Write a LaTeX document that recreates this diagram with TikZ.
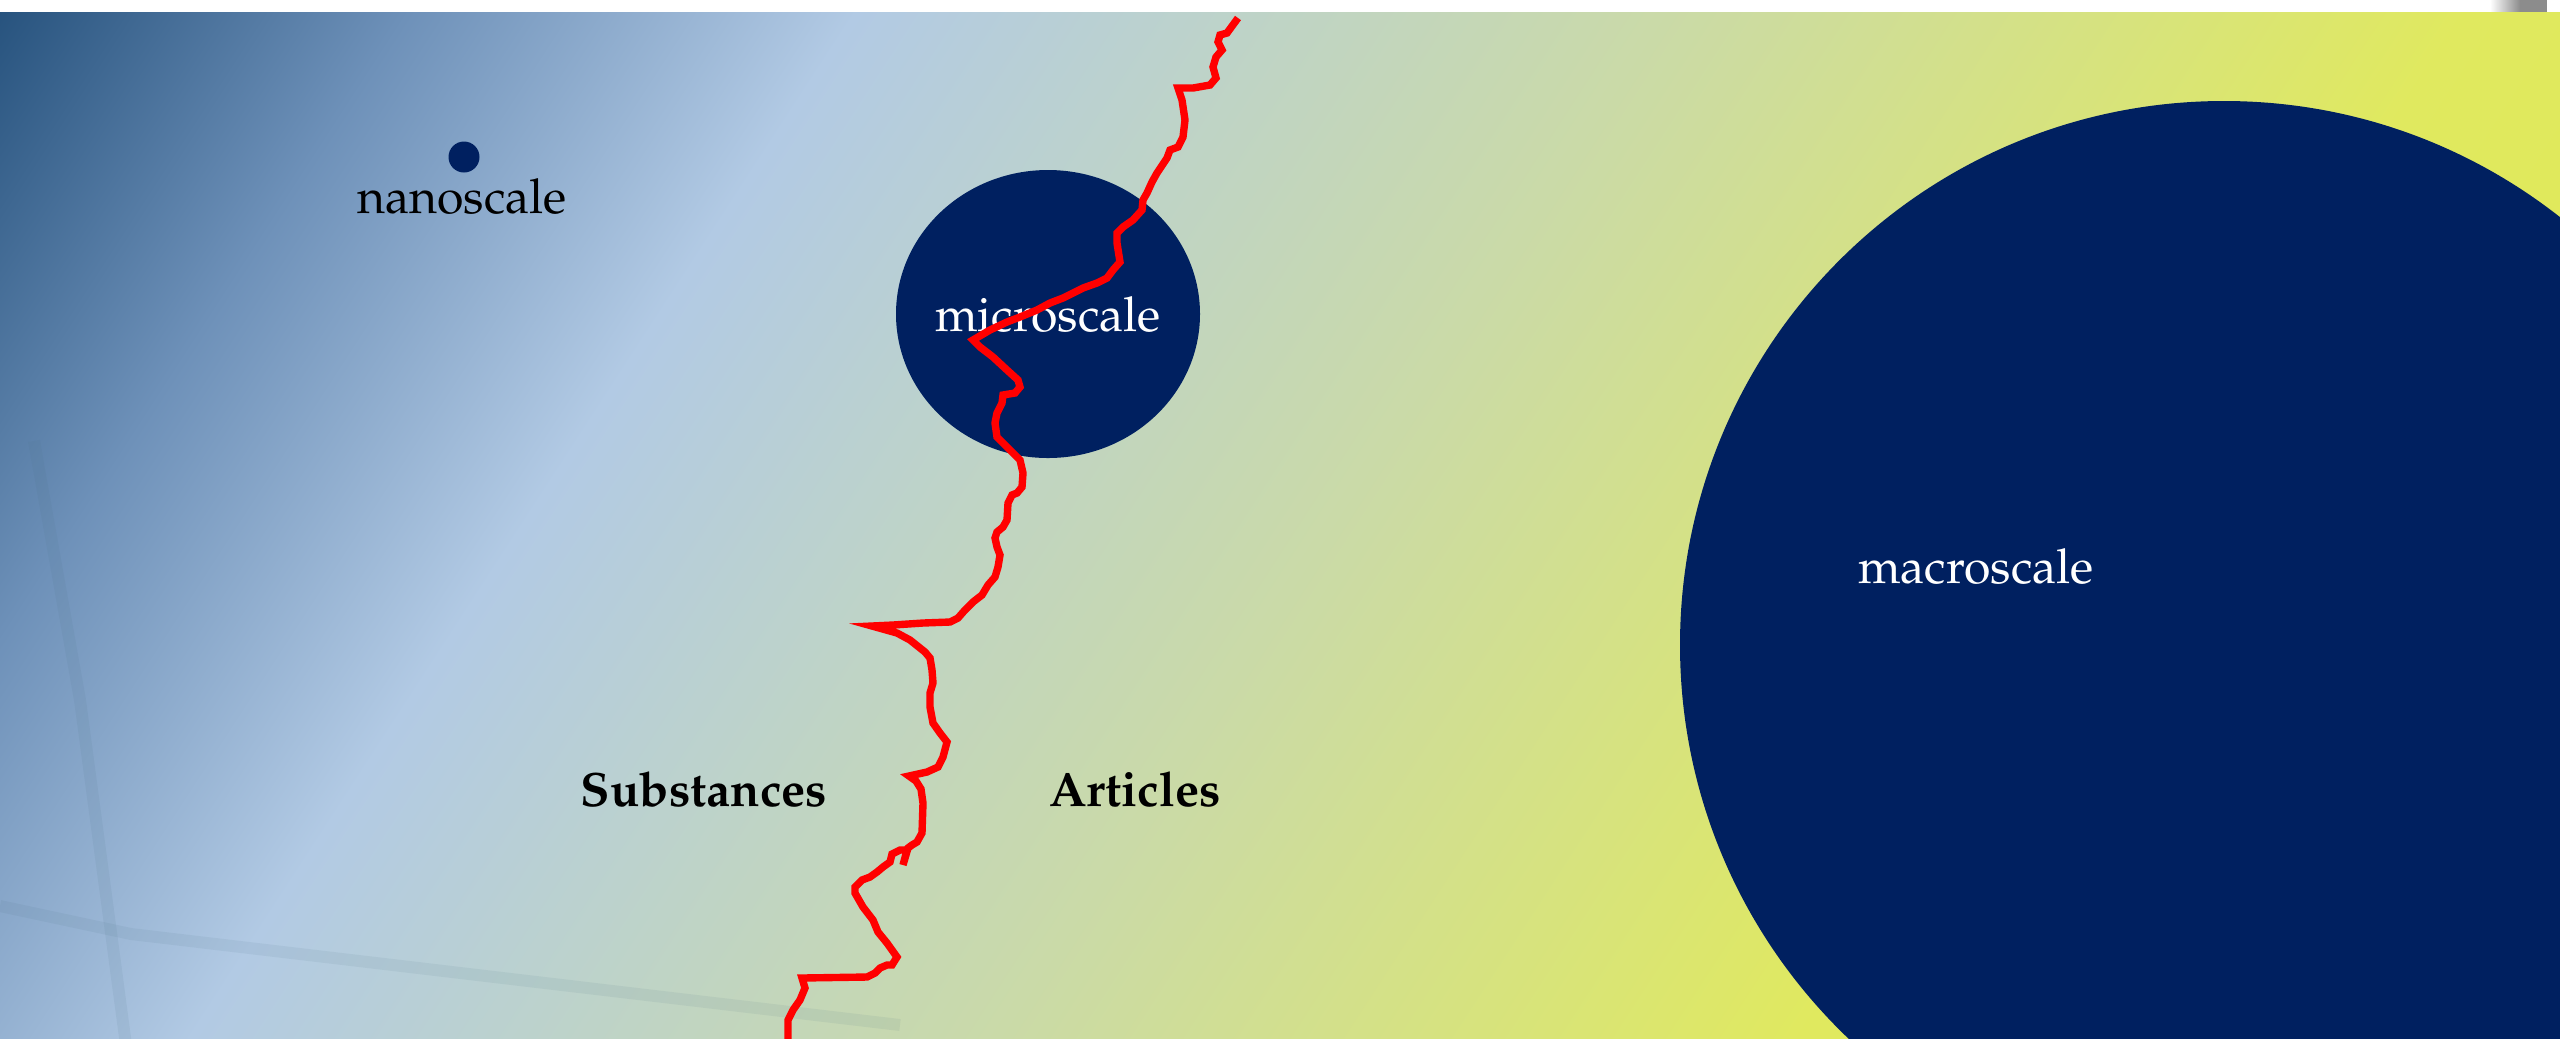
\documentclass[tikz,border=0pt]{standalone}
\usepackage[T1]{fontenc}
\usepackage{mathpazo}
\definecolor{navy}{RGB}{0,32,96}
\definecolor{bgA}{RGB}{38,82,125}
\definecolor{bgB}{RGB}{110,145,185}
\definecolor{bgC}{RGB}{178,202,228}
\definecolor{bgD}{RGB}{188,210,205}
\definecolor{bgE}{RGB}{202,218,168}
\definecolor{bgF}{RGB}{224,233,95}
\definecolor{bgG}{RGB}{226,234,82}
\definecolor{crackred}{RGB}{255,0,0}
\pgfdeclarehorizontalshading{bgshade}{100bp}{color(0bp)=(bgA); color(25bp)=(bgA);
  color(31.25bp)=(bgB); color(37.95bp)=(bgC); color(42.86bp)=(bgD);
  color(50bp)=(bgE); color(62.05bp)=(bgF); color(75bp)=(bgG); color(100bp)=(bgG)}
\tikzset{
  blob/.style={fill=navy},
  scalelabel/.style={font=\fontsize{13.7}{16}\selectfont, inner sep=0pt, anchor=base},
  sidelabel/.style={font=\fontsize{13.7}{16}\selectfont\bfseries, inner sep=0pt, anchor=base},
  crack/.style={draw=crackred, line width=2.1pt, line join=miter},
  beam/.style={draw=black!55!cyan, line width=3.4pt, opacity=0.09}
}

\begin{document}
\begin{tikzpicture}[x=0.01cm,y=-0.01cm]
    \useasboundingbox (0,0) rectangle (2560,1038);
    \fill[white] (0,0) rectangle (2560,12);
    \shade[left color=white, right color=black!45] (2490,0) rectangle (2520,12);
    \fill[black!45] (2520,0) rectangle (2547,12);
    \begin{scope}
        \clip (0,12) rectangle (2560,1038);
        % background
        \begin{scope}[transform canvas={rotate=-33}]
            \shade[shading=bgshade] (0,-1450) rectangle (2800,950);
        \end{scope}
        \draw[beam] (34,441) -- (80,700) -- (126,1045);
        \draw[beam] (0,906) -- (131,934) -- (900,1025);
        % the three scales
        \fill[blob] (464,157) circle (15.5);
        \fill[blob] (1048,314) ellipse (152 and 144);
        \fill[blob] (2224,645) circle (544);
        \node[scalelabel] (nano) at (462,213) {nanoscale};
        \node[scalelabel, text=white] (micro) at (1048,331) {microscale};
        \node[scalelabel, text=white] (macro) at (1976,583) {macroscale};
        \node[sidelabel] (subst) at (704,806) {Substances};
        \node[sidelabel] (artic) at (1135,806) {Articles};
        % crack
        \draw[crack] plot coordinates {(1238,18) (1227,33) (1220,35) (1218,42) (1222,50) (1216,57)
            (1213,67) (1216,78) (1210,85) (1193,88) (1178,88) (1182,100) (1185,120) (1183,137)
            (1178,147) (1170,150) (1167,158) (1157,173) (1152,182) (1147,193) (1143,200) (1142,210)
            (1133,220) (1123,227) (1117,233) (1117,243) (1120,262) (1113,270) (1107,278) (1097,283)
            (1083,288) (1073,293) (1063,298) (1050,303) (1037,310) (1020,317) (1007,322) (990,330)
            (973,340) (980,347) (993,357) (1007,370) (1018,380) (1020,387) (1015,393) (1003,395)
            (1002,403) (997,413) (995,423) (997,437) (1003,443) (1012,452) (1020,460) (1023,473)
            (1022,487) (1017,493) (1012,495) (1008,503) (1007,520) (1003,527) (997,532) (995,538)
            (997,547) (1000,555) (998,567) (995,577) (988,585) (982,595) (973,602) (965,610)
            (958,618) (950,622) (923,623) (893,625) (872,626) (897,633) (910,640) (925,652)
            (930,658) (932,670) (933,683) (930,693) (930,707) (933,723) (940,733) (947,742)
            (943,757) (938,767) (927,772) (909,776) (916,781) (921,789) (923,803) (922,833)
            (917,842) (912,845) (908,848) (903,865) (907,850) (900,850) (892,854) (890,862)
            (883,867) (877,872) (870,877) (862,880) (855,887) (855,893) (863,907) (873,920)
            (878,932) (887,943) (897,957) (892,965) (887,965) (880,968) (875,973) (867,977)
            (802,978) (805,988) (800,1000) (793,1010) (788,1020) (788,1045)};
    \end{scope}
\end{tikzpicture}
\end{document}
